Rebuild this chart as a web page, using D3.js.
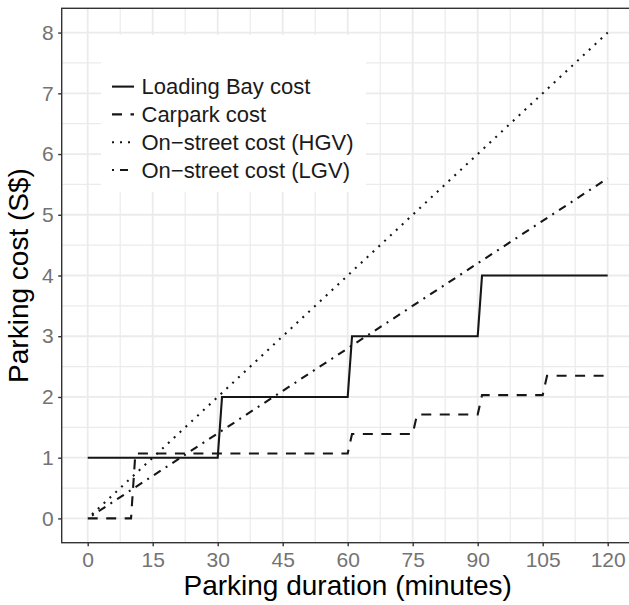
<!DOCTYPE html>
<html>
<head>
<meta charset="utf-8">
<script src="https://cdn.jsdelivr.net/npm/d3@7"></script>
<style>
  body { margin: 0; background: #fff; }
  svg { display: block; font-family: "Liberation Sans", Arial, sans-serif; }
</style>
</head>
<body>
<div id="renderDiv"></div>
<script>
// ---- data ----
const xTicks = [0, 15, 30, 45, 60, 75, 90, 105, 120];
const yTicks = [0, 1, 2, 3, 4, 5, 6, 7, 8];

const bayMinutes = [0, 30, 31, 60, 61, 90, 91, 120];
const bayCost = [1, 1, 2, 2, 3, 3, 4, 4];

const carparkMinutes = [0, 10, 11, 60, 61, 75, 76, 90, 91, 105, 106, 120];
const carparkCost = [0, 0, 1.07, 1.07, 1.39, 1.39, 1.71, 1.71, 2.03, 2.03, 2.35, 2.35];

const hgvMinutes = [1, 120];
const hgvCost = [0.0667, 8];

const lgvMinutes = [1, 120];
const lgvCost = [0.0467, 5.6];

const seriesNames = ["Loading Bay cost", "Carpark cost", "On\u2212street cost (HGV)", "On\u2212street cost (LGV)"];
const seriesDash = [null, "10,8.5", "2,6", "2,6,8,6"];

const series = [
    { x: bayMinutes, y: bayCost },
    { x: carparkMinutes, y: carparkCost },
    { x: hgvMinutes, y: hgvCost },
    { x: lgvMinutes, y: lgvCost }
].map(function (s, i) {
    return { name: seriesNames[i], dash: seriesDash[i], pts: s.x.map(function (v, j) { return [v, s.y[j]]; }) };
});

// ---- layout ----
const SVGWIDTH = 629, SVGHEIGHT = 605;
const panel = { left: 61.7, right: 633.7, top: 8.3, bottom: 542.7 };
const ink = "#161616", grid = "#ebebeb";

const svg = d3.select("#renderDiv").append("svg")
    .attr("width", SVGWIDTH).attr("height", SVGHEIGHT);

// ggplot style 5% expansion
let xScale = d3.scaleLinear().domain([-6, 126]).range([panel.left, panel.right]);
let yScale = d3.scaleLinear().domain([-0.4, 8.4]).range([panel.bottom, panel.top]);

svg.append("defs").append("clipPath").attr("id", "panelClip")
    .append("rect")
    .attr("x", panel.left).attr("y", panel.top)
    .attr("width", panel.right - panel.left).attr("height", panel.bottom - panel.top);

let plot = svg.append("g").attr("clip-path", "url(#panelClip)");

// grid: minor then major
let xMinor = xTicks.slice(0, -1).map(function (d) { return d + 7.5; });
let yMinor = yTicks.slice(0, -1).map(function (d) { return d + 0.5; });

plot.append("g").selectAll("line").data(xMinor).enter().append("line")
    .attr("x1", xScale).attr("x2", xScale)
    .attr("y1", panel.top).attr("y2", panel.bottom)
    .attr("stroke", grid).attr("stroke-width", 1.2);
plot.append("g").selectAll("line").data(yMinor).enter().append("line")
    .attr("y1", yScale).attr("y2", yScale)
    .attr("x1", panel.left).attr("x2", panel.right)
    .attr("stroke", grid).attr("stroke-width", 1.2);
plot.append("g").selectAll("line").data(xTicks).enter().append("line")
    .attr("x1", xScale).attr("x2", xScale)
    .attr("y1", panel.top).attr("y2", panel.bottom)
    .attr("stroke", grid).attr("stroke-width", 1.8);
plot.append("g").selectAll("line").data(yTicks).enter().append("line")
    .attr("y1", yScale).attr("y2", yScale)
    .attr("x1", panel.left).attr("x2", panel.right)
    .attr("stroke", grid).attr("stroke-width", 1.8);

// legend background (drawn under the lines, as in the reference)
const legend = { x: 101, y: 35, w: 265, h: 157, row0: 86.6, rowStep: 27.8 };
plot.append("rect")
    .attr("x", legend.x).attr("y", legend.y)
    .attr("width", legend.w).attr("height", legend.h)
    .attr("fill", "#fff");

// series
let valueline = d3.line()
    .x(function (d) { return xScale(d[0]); })
    .y(function (d) { return yScale(d[1]); });

plot.append("g").selectAll("path").data(series).enter().append("path")
    .attr("d", function (d) { return valueline(d.pts); })
    .attr("fill", "none")
    .attr("stroke", ink)
    .attr("stroke-width", 2.1)
    .attr("stroke-dasharray", function (d) { return d.dash; });

// panel border
svg.append("rect")
    .attr("x", panel.left).attr("y", panel.top)
    .attr("width", panel.right - panel.left).attr("height", panel.bottom - panel.top)
    .attr("fill", "none").attr("stroke", "#333").attr("stroke-width", 1.4);

// axes
let xAxis = svg.append("g")
    .attr("transform", "translate(0," + panel.bottom + ")")
    .call(d3.axisBottom(xScale).tickValues(xTicks).tickSize(3.5).tickPadding(6).tickSizeOuter(0));
let yAxis = svg.append("g")
    .attr("transform", "translate(" + panel.left + ",0)")
    .call(d3.axisLeft(yScale).tickValues(yTicks).tickSize(3.5).tickPadding(4.5).tickSizeOuter(0));

[xAxis, yAxis].forEach(function (ax) {
    ax.select(".domain").remove();
    ax.selectAll(".tick line").attr("stroke", "#333").attr("stroke-width", 1.4);
    ax.selectAll(".tick text")
        .attr("fill", "#737373")
        .style("font-size", "21px")
        .style("font-family", "'Liberation Sans', Arial, sans-serif");
});

// axis titles
svg.append("text")
    .attr("x", (panel.left + panel.right) / 2).attr("y", 595)
    .attr("text-anchor", "middle")
    .style("font-size", "28px").attr("fill", "#000")
    .text("Parking duration (minutes)");

svg.append("text")
    .attr("transform", "translate(28," + (panel.top + panel.bottom) / 2 + ") rotate(-90)")
    .attr("text-anchor", "middle")
    .style("font-size", "28px").attr("fill", "#000")
    .text("Parking cost (S$)");

// legend keys + labels
let rows = svg.append("g").selectAll("g").data(series).enter().append("g")
    .attr("transform", function (d, i) { return "translate(0," + (legend.row0 + i * legend.rowStep) + ")"; });

rows.append("line")
    .attr("x1", 112).attr("x2", 134)
    .attr("y1", 0).attr("y2", 0)
    .attr("stroke", ink).attr("stroke-width", 2.1)
    .attr("stroke-dasharray", function (d) { return d.dash; });

rows.append("text")
    .attr("x", 141.5).attr("y", 0).attr("dy", "0.355em")
    .style("font-size", "22px").attr("fill", "#1a1a1a")
    .text(function (d) { return d.name; });
</script>
</body>
</html>
